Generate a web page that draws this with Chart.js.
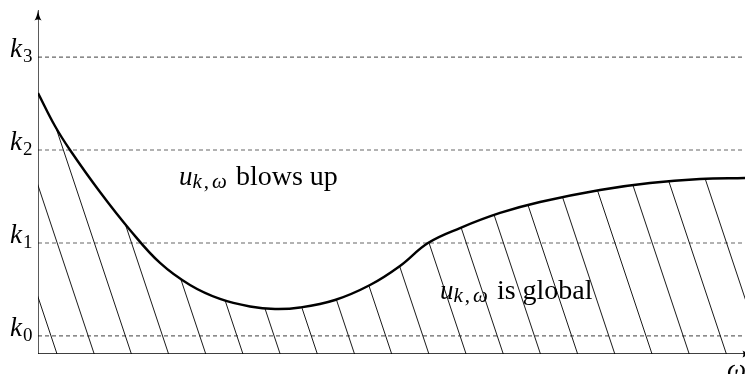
<!DOCTYPE html>
<html>
<head>
<meta charset="utf-8">
<script src="https://cdn.jsdelivr.net/npm/chart.js@4"></script>
<style>
html,body{margin:0;padding:0;background:#fff;overflow:hidden}
#wrap{width:745px;height:374px;position:relative;overflow:hidden}
#labels{position:absolute;left:0;top:0;width:745px;height:374px;pointer-events:none}
#labels div{position:absolute;white-space:nowrap;line-height:1;font-family:"Liberation Serif","Times New Roman",serif;color:#000}
.sub{position:relative;font-size:19px}
</style>
</head>
<body>
<div id="wrap"><canvas id="c" width="745" height="374"></canvas><div id="labels"></div></div>
<script>
// ---- data ----
const curveX = [0, 0.240, 0.453, 0.877, 1.301, 1.726, 2.150, 2.574, 2.999, 3.352, 3.706, 4.201, 4.696, 5.120, 5.516, 5.969, 6.535, 7.100, 7.949, 8.656, 9.364, 10];
const curveY = [2.807, 2.452, 2.194, 1.742, 1.334, 0.979, 0.742, 0.592, 0.511, 0.484, 0.500, 0.581, 0.742, 0.947, 1.194, 1.355, 1.517, 1.635, 1.764, 1.839, 1.882, 1.893];
const kLevels = [0.194, 1.194, 2.194, 3.194];
const kSubscripts = ['0', '1', '2', '3'];
const hatchBottoms = [0.269, 0.795, 1.321, 1.847, 2.373, 2.899, 3.425, 3.951, 4.477, 5.003, 5.529, 6.055, 6.581, 7.107, 7.633, 8.159, 8.685, 9.211, 9.737, 10.263];
const hatchSlope = 2.281;          // rise per unit run (data units)
const regionTexts = ['blows up', 'is global'];
const regionX = [1.994, 5.686];
const regionY = [1.818, 0.592];
const xAxisLabel = 'ω';
const xMax = 10, yMax = 3.7;

// ---- build datasets ----
const datasets = [];
datasets.push({
  data: curveX.map((x, i) => ({x, y: curveY[i]})),
  borderColor: '#000', borderWidth: 2.4, pointRadius: 0,
  tension: 0.4, fill: false, order: 1
});
datasets.push({ data: [{x: 0, y: 0}, {x: 0, y: yMax}], borderColor: '#000', borderWidth: 1.3, pointRadius: 0, order: 2 });
datasets.push({ data: [{x: 0, y: 0}, {x: xMax, y: 0}], borderColor: '#000', borderWidth: 1.3, pointRadius: 0, order: 2 });
kLevels.forEach(k => datasets.push({
  data: [{x: 0, y: k}, {x: xMax, y: k}],
  borderColor: '#666', borderWidth: 1.2, borderDash: [4, 3], pointRadius: 0, order: 5
}));
hatchBottoms.forEach(xb => datasets.push({
  isHatch: true,
  data: [{x: xb, y: 0}, {x: xb - yMax / hatchSlope, y: yMax}],
  borderColor: '#1a1a1a', borderWidth: 1, pointRadius: 0, order: 4
}));

const hatchClip = {
  id: 'hatchClip',
  beforeDatasetDraw(chart, args) {
    const ds = chart.data.datasets[args.index];
    if (!ds.isHatch) return;
    const ctx = chart.ctx;
    const meta = chart.getDatasetMeta(0);
    const line = meta.dataset;
    const y0 = chart.scales.y.getPixelForValue(0);
    ctx.save();
    ctx.beginPath();
    try {
      line.updateControlPoints(chart.chartArea, 'x');
      line.path(ctx);
    } catch (e) {
      meta.data.forEach((p, i) => i ? ctx.lineTo(p.x, p.y) : ctx.moveTo(p.x, p.y));
    }
    const pts = meta.data;
    ctx.lineTo(pts[pts.length - 1].x, y0);
    ctx.lineTo(pts[0].x, y0);
    ctx.closePath();
    ctx.clip();
  },
  afterDatasetDraw(chart, args) {
    const ds = chart.data.datasets[args.index];
    if (ds.isHatch) chart.ctx.restore();
  }
};

const arrows = {
  id: 'arrows',
  afterDatasetsDraw(chart) {
    const ctx = chart.ctx;
    const xs = chart.scales.x, ys = chart.scales.y;
    ctx.save();
    ctx.fillStyle = '#000';
    const ax = xs.getPixelForValue(0), ay = ys.getPixelForValue(yMax);
    ctx.beginPath();
    ctx.moveTo(ax, ay);
    ctx.quadraticCurveTo(ax + 1, ay + 7, ax + 3.6, ay + 10.5);
    ctx.quadraticCurveTo(ax, ay + 8.5, ax - 3.6, ay + 10.5);
    ctx.quadraticCurveTo(ax - 1, ay + 7, ax, ay);
    ctx.fill();
    const bx = xs.getPixelForValue(xMax) + 8, by = ys.getPixelForValue(0);
    ctx.beginPath();
    ctx.moveTo(bx, by);
    ctx.quadraticCurveTo(bx - 7, by - 1, bx - 10.5, by - 3.6);
    ctx.quadraticCurveTo(bx - 8.5, by, bx - 10.5, by + 3.6);
    ctx.quadraticCurveTo(bx - 7, by + 1, bx, by);
    ctx.fill();
    ctx.restore();
  }
};

// text labels as real HTML text, positioned through the chart scales
const BASE = 0.8375; // baseline offset (em) for Liberation Serif at line-height 1
function placeText(html, x, baseline, size) {
  const el = document.createElement('div');
  el.style.left = x + 'px';
  el.style.top = (baseline - BASE * size) + 'px';
  el.style.fontSize = size + 'px';
  el.innerHTML = html;
  document.getElementById('labels').appendChild(el);
}
const textLayer = {
  id: 'textLayer',
  afterRender(chart) {
    const box = document.getElementById('labels');
    box.innerHTML = '';
    const xs = chart.scales.x, ys = chart.scales.y;
    kLevels.forEach((k, i) => {
      placeText('<i>k</i><span class="sub" style="top:5px;margin-left:1px">' + kSubscripts[i] + '</span>',
        10, ys.getPixelForValue(k) + 1, 27);
    });
    regionTexts.forEach((t, i) => {
      placeText('<i style="font-size:27px">u</i><span class="sub" style="top:3px;margin-left:0px;font-size:21px"><i>k</i><span style="margin-left:2px">,</span><i style="margin-left:3px">ω</i></span>' +
        '<span style="margin-left:9px">' + t + '</span>',
        xs.getPixelForValue(regionX[i]), ys.getPixelForValue(regionY[i]), 28);
    });
    placeText('<i>' + xAxisLabel + '</i>', xs.getPixelForValue(xMax) - 18, ys.getPixelForValue(0) + 25, 27);
  }
};

new Chart(document.getElementById('c'), {
  type: 'line',
  data: { datasets },
  options: {
    responsive: false,
    animation: false,
    devicePixelRatio: 1,
    layout: { padding: { left: 38, right: 0, top: 10, bottom: 20 } },
    scales: {
      x: { type: 'linear', min: 0, max: xMax, display: false },
      y: { type: 'linear', min: 0, max: yMax, display: false }
    },
    plugins: { legend: { display: false }, tooltip: { enabled: false } }
  },
  plugins: [hatchClip, arrows, textLayer]
});
</script>
</body>
</html>
